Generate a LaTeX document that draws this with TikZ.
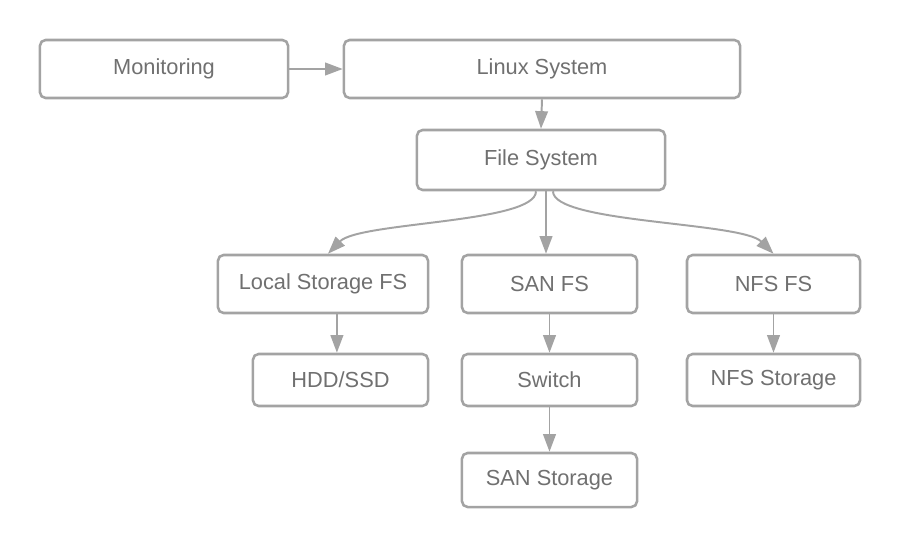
\documentclass[tikz,border=0pt]{standalone}
\usepackage{fontspec}
\setmainfont{Liberation Sans}
\usetikzlibrary{arrows.meta}
\definecolor{linegray}{RGB}{163,163,163}
\definecolor{textgray}{RGB}{112,112,112}

\begin{document}
\begin{tikzpicture}[x=0.025cm, y=-0.025cm]

        % Styles
        \tikzset{
            box/.style={draw=linegray, line width=1.8pt, rounded corners=4pt, fill=white, text=textgray, inner sep=0pt, align=center, font=\fontsize{15.5}{18}\selectfont, minimum height=1.45cm},
            link/.style={-{Triangle[length=12.5pt, width=9pt]}, draw=linegray, line width=1.4pt}
        }

        \useasboundingbox (0,0) rectangle (901,547);

        % --- Top row ---
        \node[box, minimum width=6.2cm] (monitor) at (164, 69) {Monitoring};
        \node[box, minimum width=9.9cm] (linux) at (542, 69) {Linux System};
        \node[box, minimum width=6.2cm, minimum height=1.5cm] (fs) at (541, 160) {File System};

        % --- File system types ---
        \node[box, minimum width=5.25cm] (local) at (323, 284) {Local Storage FS};
        \node[box, minimum width=4.375cm] (sanfs) at (549.5, 284) {SAN FS};
        \node[box, minimum width=4.325cm] (nfsfs) at (773.5, 284) {NFS FS};

        % --- Devices ---
        \node[box, minimum width=4.375cm, minimum height=1.3cm] (hdd) at (340.5, 380) {HDD/SSD};
        \node[box, minimum width=4.375cm, minimum height=1.3cm] (switch) at (549.5, 380) {Switch};
        \node[box, minimum width=4.325cm, minimum height=1.3cm] (nfsst) at (773.5, 380) {NFS Storage};
        \node[box, minimum width=4.375cm, minimum height=1.35cm] (sanst) at (549.5, 480) {SAN Storage};

        % --- Connectors ---
        \draw[link] (monitor) -- (linux);
        \draw[link] (linux.south) -- (fs.north);
        \draw[link] ([xshift=-0.125cm]fs.south) .. controls ([xshift=-0.125cm, yshift=-0.8cm]fs.south) and ([xshift=0.9cm, yshift=0.8cm]local.north) .. ([xshift=0.125cm]local.north);
        \draw[link] ([xshift=0.125cm]fs.south) -- ([xshift=0.125cm]fs.south |- sanfs.north);
        \draw[link] ([xshift=0.3cm]fs.south) .. controls ([xshift=0.3cm, yshift=-0.8cm]fs.south) and ([xshift=-0.8cm, yshift=0.8cm]nfsfs.north) .. (nfsfs.north);
        \draw[link] ([xshift=-0.09cm]local.south -| hdd.north) -- ([xshift=-0.09cm]hdd.north);
        \draw[link] (sanfs) -- (switch);
        \draw[link] (switch) -- (sanst);
        \draw[link] (nfsfs) -- (nfsst);

\end{tikzpicture}
\end{document}
